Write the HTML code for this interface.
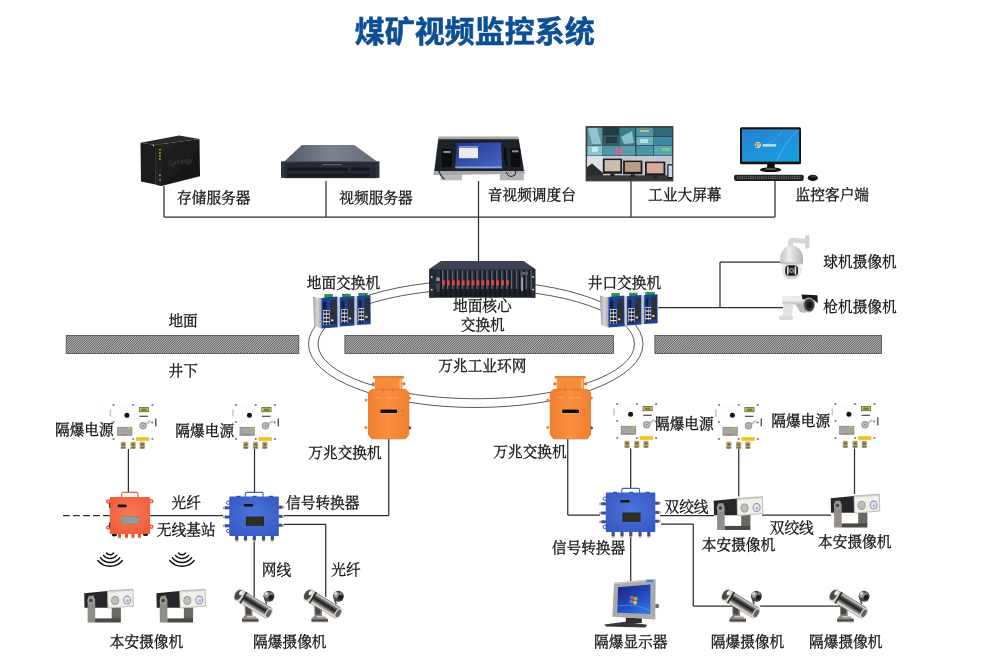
<!DOCTYPE html>
<html lang="zh"><head><meta charset="utf-8"><title>煤矿视频监控系统</title>
<style>
html,body{margin:0;padding:0;background:#fff;}
body{width:985px;height:670px;overflow:hidden;position:relative;font-family:"Liberation Sans",sans-serif;}
svg{position:absolute;left:0;top:0;display:block}
.t{position:absolute;color:transparent;white-space:nowrap;overflow:hidden;line-height:1.2;height:1.2em;font-family:"Liberation Serif",serif;}
.lb{font-family:"Liberation Serif","Noto Serif CJK SC",serif;font-size:14.7px;fill:#141414;stroke:#141414;stroke-width:0.3;}
.ttl{font-family:"Liberation Sans","Noto Sans CJK SC",sans-serif;font-size:30px;font-weight:bold;fill:#0c4f95;stroke:#0c4f95;stroke-width:0.6;}
</style></head><body>
<svg width="985" height="670" viewBox="0 0 985 670">
<defs>
<filter id="bl" x="0" y="0" width="985" height="670" filterUnits="userSpaceOnUse"><feGaussianBlur stdDeviation="0.45"/></filter>
<pattern id="hatch" width="1.63" height="1.63" patternUnits="userSpaceOnUse" patternTransform="rotate(-45)">
<rect width="1.63" height="1.63" fill="#c2c2c2"/><rect width="1.63" height="0.8" fill="#555"/></pattern>
<linearGradient id="nasg" x1="0" y1="0" x2="1" y2="1"><stop offset="0" stop-color="#242424"/><stop offset="1" stop-color="#121212"/></linearGradient>
<linearGradient id="srvtop" x1="0" y1="0" x2="1" y2="0"><stop offset="0" stop-color="#525a66"/><stop offset=".5" stop-color="#7b838e"/><stop offset="1" stop-color="#646c78"/></linearGradient>
<linearGradient id="cons" x1="0" y1="0" x2="1" y2="1"><stop offset="0" stop-color="#27358c"/><stop offset="1" stop-color="#4567c8"/></linearGradient>
<linearGradient id="pcs" x1="0" y1="0" x2="1" y2="1"><stop offset="0" stop-color="#2a80cf"/><stop offset="1" stop-color="#16a2e2"/></linearGradient>
<pattern id="keys" width="2.2" height="1.8" patternUnits="userSpaceOnUse"><rect width="2.2" height="1.8" fill="#222"/><rect width="1.5" height="1.1" fill="#6a6a6e"/></pattern>
<linearGradient id="mox" x1="0" y1="0" x2="1" y2="0"><stop offset="0" stop-color="#9da1a6"/><stop offset=".5" stop-color="#d3d6d9"/><stop offset="1" stop-color="#a6aaae"/></linearGradient>
<linearGradient id="domeg" x1="0" y1="0" x2="1" y2="0"><stop offset="0" stop-color="#c2c2c2"/><stop offset=".4" stop-color="#eeeeee"/><stop offset="1" stop-color="#b4b4b4"/></linearGradient>
<linearGradient id="org" x1="0" y1="0" x2="1" y2="0"><stop offset="0" stop-color="#f07f2e"/><stop offset=".5" stop-color="#f98f40"/><stop offset="1" stop-color="#f0802f"/></linearGradient>
<radialGradient id="bsg" cx=".5" cy=".45" r=".7"><stop offset="0" stop-color="#f87a55"/><stop offset="1" stop-color="#ee5a39"/></radialGradient>
<radialGradient id="cvg" cx=".5" cy=".45" r=".7"><stop offset="0" stop-color="#4c74dc"/><stop offset="1" stop-color="#3557c0"/></radialGradient>
<linearGradient id="cyl" x1="0" y1="0" x2="0" y2="1"><stop offset="0" stop-color="#6e6a66"/><stop offset=".12" stop-color="#cfcac2"/><stop offset=".28" stop-color="#5a595e"/><stop offset=".45" stop-color="#1f1f22"/><stop offset=".6" stop-color="#47474b"/><stop offset=".76" stop-color="#a5a19b"/><stop offset=".9" stop-color="#eeeae2"/><stop offset="1" stop-color="#8a8680"/></linearGradient>
<linearGradient id="exm" x1="0" y1="0" x2=".7" y2="1"><stop offset="0" stop-color="#1a2478"/><stop offset=".55" stop-color="#2446b8"/><stop offset="1" stop-color="#2c70e4"/></linearGradient>
</defs>
<g filter="url(#bl)">
<g fill="none" stroke="#505050" stroke-width="0.95"><ellipse cx="475.75" cy="344" rx="167.25" ry="63.5"/><ellipse cx="476.25" cy="344" rx="158.25" ry="54.75"/></g>
<rect x="66.2" y="335.4" width="232.6" height="18.1" fill="url(#hatch)" stroke="#4a4a4a" stroke-width=".8"/>
<rect x="344.9" y="335.4" width="268.5" height="18.1" fill="url(#hatch)" stroke="#4a4a4a" stroke-width=".8"/>
<rect x="654.9" y="335.4" width="226.7" height="18.1" fill="url(#hatch)" stroke="#4a4a4a" stroke-width=".8"/>
<g stroke="#2e2e2e" stroke-width="1.25" fill="none"><line x1="164" y1="217" x2="775" y2="217" /><line x1="164" y1="186" x2="164" y2="217" /><line x1="326" y1="181" x2="326" y2="217" /><line x1="478.5" y1="181" x2="478.5" y2="261.5" /><line x1="631" y1="181" x2="631" y2="217" /><line x1="775" y1="181" x2="775" y2="217" /><line x1="658" y1="307.5" x2="783" y2="307.5" /><line x1="720" y1="262" x2="720" y2="307.5" /><line x1="720" y1="262" x2="781.5" y2="262" /><line x1="128.4" y1="449" x2="128.4" y2="492.4" /><line x1="254.5" y1="449" x2="254.5" y2="492.4" /><line x1="109.8" y1="515.6" x2="61" y2="515.6" stroke-dasharray="6.8 3.2"/><line x1="150" y1="515.6" x2="223" y2="515.6" /><line x1="284" y1="515.7" x2="388.75" y2="515.7" /><line x1="388.75" y1="438.5" x2="388.75" y2="515.7" /><line x1="284" y1="524.3" x2="325.75" y2="524.3" /><line x1="325.75" y1="524.3" x2="325.75" y2="597" /><line x1="254.2" y1="541.5" x2="254.2" y2="597" /><line x1="567.75" y1="438.5" x2="567.75" y2="515" /><line x1="567.75" y1="515" x2="600" y2="515" /><line x1="630.7" y1="448.5" x2="630.7" y2="488.5" /><line x1="738.75" y1="449" x2="738.75" y2="496.5" /><line x1="854.5" y1="448.5" x2="854.5" y2="494" /><line x1="661" y1="524" x2="693.25" y2="524" /><line x1="693.25" y1="524" x2="693.25" y2="606" /><line x1="693.25" y1="606" x2="733" y2="606" /><line x1="760" y1="606" x2="840" y2="606" /><line x1="762" y1="515" x2="831" y2="515" /><line x1="660" y1="515.5" x2="714" y2="515.5" /><line x1="630.7" y1="537" x2="630.7" y2="581" /></g>
<g><polygon points="140.5,142.8 179.1,135.5 199.5,139.1 155.1,144.9" fill="#2a2a2a"/><polygon points="140.5,142.8 155.1,144.9 155.6,184.6 141.0,181.4" fill="#1b1b1b"/><polygon points="155.1,144.9 199.5,139.1 200.0,176.2 161.4,186.1 155.6,184.6" fill="url(#nasg)"/><polygon points="155.1,144.9 161.2,144.1 161.4,186.1 155.6,184.6" fill="#222"/><rect x="159.2" y="148.9" width="1.5" height="1.5" fill="#b9c32a"/><rect x="159.2" y="152.3" width="1.5" height="1.5" fill="#b9c32a"/><rect x="159.2" y="155.4" width="1.5" height="1.5" fill="#b9c32a"/><rect x="159.2" y="158.3" width="1.5" height="1.5" fill="#b9c32a"/><rect x="159.2" y="174.5" width="1.5" height="1.6" fill="#a4c22a"/><rect x="159.2" y="178.6" width="1.6" height="2.6" fill="#1f8fd0"/><circle cx="153.4" cy="145.6" r="0.8" fill="#ddd"/><text x="168" y="166" font-family="Liberation Sans, sans-serif" font-size="7.5" font-style="italic" fill="#3d3d3d" transform="rotate(-8 168 166)" textLength="25">Synology</text></g>
<g><polygon points="301.8,145.0 354.3,145.0 376.3,161.0 284.8,161.0" fill="url(#srvtop)"/><rect x="281" y="161.3" width="98.5" height="16.6" fill="#2f3944"/><rect x="284.6" y="161" width="92" height="17.2" fill="#262c35"/><rect x="284.6" y="161" width="92" height="1.2" fill="#4a525e"/><rect x="287.5" y="167.6" width="60" height="3.6" fill="#14171c"/><rect x="351.5" y="167.6" width="18" height="3.6" fill="#14171c"/><rect x="287.5" y="173.6" width="82" height="3.3" fill="#171a20"/><rect x="322" y="164" width="20" height="1.3" fill="#59616d"/></g>
<g><rect x="440.6" y="174" width="21.3" height="6.3" fill="#b9b9b9"/><rect x="499.8" y="174" width="24" height="6.3" fill="#b4b4b4"/><polygon points="438.4,136.4 518.2,136.4 525.0,173.8 433.4,174.9" fill="#a6a6a6"/><polygon points="438.4,139.2 518.8,139.2 523.8,171.0 434.5,171.0" fill="#1c202b"/><polygon points="456.8,143.1 501.0,142.5 502.0,168.2 455.2,168.2" fill="url(#cons)"/><rect x="459" y="146.4" width="19" height="11.8" fill="#e9ecf0"/><rect x="459" y="146.4" width="19" height="1.6" fill="#6f86c8"/><polygon points="455.4,166.6 501.9,166.6 502.0,168.2 455.2,168.2" fill="#8ea4d6"/><rect x="441.8" y="148.7" width="10" height="18.3" rx="1.2" fill="#0b0c10"/><rect x="443.4" y="151" width="7.3" height="2" fill="#8d8f94"/><rect x="510.6" y="148.3" width="9.6" height="18.5" rx="1.2" fill="#0b0c10"/><rect x="512" y="150.3" width="6.4" height="2" fill="#8d8f94"/><path d="M505.5 147.5 q-1.5 9 1.5 18" stroke="#0b0c10" stroke-width="2.4" fill="none"/><path d="M438.5 168 q1 8 6 11" stroke="#222" stroke-width="1.2" fill="none"/><path d="M506 172 q3 7 9 3 q2 -3 -1 -5" stroke="#222" stroke-width="1" fill="none"/></g>
<g><rect x="586.1" y="126.6" width="86.8" height="54.3" fill="#2b3236"/><rect x="587.3" y="127.6" width="15.2" height="17.4" fill="#5d959f"/><rect x="602.9" y="127.6" width="16.1" height="6.9" fill="#213c45"/><rect x="619.4" y="127.6" width="15.9" height="17.4" fill="#3a7f8d"/><rect x="602.9" y="135" width="16.1" height="10.0" fill="#315964"/><rect x="636.3" y="127.6" width="17.2" height="8.9" fill="#4e99a8"/><rect x="654" y="127.6" width="18.0" height="8.9" fill="#2f6b78"/><rect x="636.3" y="137" width="17.2" height="8.0" fill="#6db4c2"/><rect x="654" y="137" width="18.0" height="8.0" fill="#3e8b9c"/><rect x="587.3" y="145.6" width="15.2" height="10.0" fill="#86c5cf"/><rect x="602.9" y="145.6" width="16.1" height="10.0" fill="#4e98a4"/><rect x="619.4" y="145.6" width="15.9" height="10.0" fill="#57a0aa"/><rect x="636.3" y="145.6" width="17.2" height="10.0" fill="#4a96a6"/><rect x="654" y="145.6" width="18.0" height="10.0" fill="#5aa5b2"/><polygon points="588,128 597,128 601,144 592,144" fill="#a9dbe3" opacity=".7"/><polygon points="621,137 632,131 634,143 624,144" fill="#9fd6df" opacity=".75"/><rect x="606" y="137" width="11" height="6" fill="#1d343b" opacity=".8"/><rect x="640" y="130" width="9" height="2" fill="#e3c27a" opacity=".8"/><rect x="660" y="139" width="11" height="2.3" fill="#3a7fd0" opacity=".8"/><rect x="615" y="148" width="8" height="6.5" fill="#d8628a" opacity=".75"/><rect x="592" y="147" width="6" height="5" fill="#d6f0f2" opacity=".8"/><rect x="640" y="139" width="8" height="4" fill="#d2eef2" opacity=".7"/><rect x="662" y="148" width="8" height="3" fill="#9fe070" opacity=".5"/><rect x="587" y="156" width="85.2" height="24.2" fill="#c3c8cd"/><rect x="587" y="156" width="16" height="19" fill="#dfe2e5"/><polygon points="587,167 592,163.5 596,167 603,173 603,180 587,180" fill="#2c2e31"/><rect x="587" y="175.3" width="85.2" height="5.1" fill="#35383b"/><rect x="602.8" y="158.6" width="19.3" height="15.2" fill="#1e1f21"/><rect x="604.5999999999999" y="160.1" width="15.7" height="11.2" fill="#cbbcaf"/><rect x="610.45" y="173.8" width="4" height="2.5" fill="#1e1f21"/><rect x="623.1" y="160.6" width="19.3" height="13.7" fill="#1e1f21"/><rect x="624.9" y="162.1" width="15.7" height="9.7" fill="#b79c86"/><rect x="630.75" y="174.3" width="4" height="2.5" fill="#1e1f21"/><rect x="645" y="161.6" width="20.3" height="14.2" fill="#1e1f21"/><rect x="646.8" y="163.1" width="16.7" height="10.2" fill="#d7aa9e"/><rect x="653.15" y="175.8" width="4" height="2.5" fill="#1e1f21"/><rect x="667.3" y="164.2" width="5" height="14.7" fill="#1e1f21"/><rect x="668.5" y="165.5" width="3.8" height="11.5" fill="#c9d9f2"/><rect x="586.1" y="126.6" width="86.8" height="54.3" fill="none" stroke="#3a3d40" stroke-width="1"/></g>
<g><rect x="767.1" y="163.5" width="7.6" height="5.5" fill="#111"/><ellipse cx="770.6" cy="169.7" rx="10.7" ry="2.4" fill="#111"/><ellipse cx="770.6" cy="169" rx="6" ry="1" fill="#555"/><rect x="740" y="127.3" width="61" height="37" rx="1.6" fill="#15110f"/><rect x="741.9" y="129.3" width="57.2" height="32.3" fill="url(#pcs)"/><path d="M777 161 Q786 140 799 130" stroke="#8fd0f2" stroke-width=".6" fill="none" opacity=".8"/><path d="M762 146 Q776 142 782 131" stroke="#7cc6ee" stroke-width=".5" fill="none" opacity=".7"/><circle cx="757.8" cy="145" r="3.1" fill="#e8f1f8" opacity=".9"/><rect x="755.6" y="142.7" width="2" height="2" fill="#e4572a"/><rect x="758" y="142.9" width="2" height="2" fill="#7bbf2e"/><rect x="755.4" y="145.2" width="2" height="2" fill="#2b7ad6"/><rect x="757.8" y="145.4" width="2" height="2" fill="#f3b91c"/><rect x="762.6" y="144.2" width="13.5" height="2.3" fill="#e9f4fb" opacity=".85"/><rect x="734.1" y="174.8" width="69.6" height="6.1" rx="1.8" fill="#1c1c1e"/><rect x="736.5" y="175.8" width="64.8" height="3.6" fill="url(#keys)"/><ellipse cx="812.8" cy="177.9" rx="5.1" ry="3.1" fill="#101012"/><ellipse cx="813.5" cy="176.6" rx="3" ry="1" fill="#3a3a3e"/></g>
<g><polygon points="440.9,261.1 523.7,261.1 535.3,269.1 429.3,269.1" fill="#3d4352"/><rect x="429.3" y="269.1" width="106" height="28.6" fill="#20232d"/><rect x="429.3" y="269.1" width="5.5" height="28.6" fill="#262a35"/><rect x="529.8" y="269.1" width="5.5" height="28.6" fill="#262a35"/><ellipse cx="431.7" cy="277" rx="1.1" ry="0.8" fill="#eee"/><ellipse cx="431.7" cy="289.8" rx="1.1" ry="0.8" fill="#eee"/><ellipse cx="533.1" cy="277" rx="1.1" ry="0.8" fill="#eee"/><ellipse cx="533.1" cy="289.8" rx="1.1" ry="0.8" fill="#eee"/><rect x="435" y="270.3" width="94.5" height="26" fill="#2b2f3b"/><rect x="440.30" y="270.3" width="1.7" height="26" fill="#171920"/><rect x="442.00" y="270.3" width="1.2" height="19" fill="#626a7b"/><rect x="445.22" y="270.3" width="1.7" height="26" fill="#171920"/><rect x="446.92" y="270.3" width="1.2" height="19" fill="#626a7b"/><rect x="450.14" y="270.3" width="1.7" height="26" fill="#171920"/><rect x="451.84" y="270.3" width="1.2" height="19" fill="#626a7b"/><rect x="455.06" y="270.3" width="1.7" height="26" fill="#171920"/><rect x="456.76" y="270.3" width="1.2" height="19" fill="#626a7b"/><rect x="459.98" y="270.3" width="1.7" height="26" fill="#171920"/><rect x="461.68" y="270.3" width="1.2" height="19" fill="#626a7b"/><rect x="464.90" y="270.3" width="1.7" height="26" fill="#171920"/><rect x="466.60" y="270.3" width="1.2" height="19" fill="#626a7b"/><rect x="469.82" y="270.3" width="1.7" height="26" fill="#171920"/><rect x="471.52" y="270.3" width="1.2" height="19" fill="#626a7b"/><rect x="474.74" y="270.3" width="1.7" height="26" fill="#171920"/><rect x="476.44" y="270.3" width="1.2" height="19" fill="#626a7b"/><rect x="479.66" y="270.3" width="1.7" height="26" fill="#171920"/><rect x="481.36" y="270.3" width="1.2" height="19" fill="#626a7b"/><rect x="484.58" y="270.3" width="1.7" height="26" fill="#171920"/><rect x="486.28" y="270.3" width="1.2" height="19" fill="#626a7b"/><rect x="489.50" y="270.3" width="1.7" height="26" fill="#171920"/><rect x="491.20" y="270.3" width="1.2" height="19" fill="#626a7b"/><rect x="494.42" y="270.3" width="1.7" height="26" fill="#171920"/><rect x="496.12" y="270.3" width="1.2" height="19" fill="#626a7b"/><rect x="499.34" y="270.3" width="1.7" height="26" fill="#171920"/><rect x="501.04" y="270.3" width="1.2" height="19" fill="#626a7b"/><rect x="504.26" y="270.3" width="1.7" height="26" fill="#171920"/><rect x="505.96" y="270.3" width="1.2" height="19" fill="#626a7b"/><rect x="509.18" y="270.3" width="1.7" height="26" fill="#171920"/><rect x="510.88" y="270.3" width="1.2" height="19" fill="#626a7b"/><rect x="514.10" y="270.3" width="1.7" height="26" fill="#171920"/><rect x="515.80" y="270.3" width="1.2" height="19" fill="#626a7b"/><rect x="519.02" y="270.3" width="1.7" height="26" fill="#171920"/><rect x="520.72" y="270.3" width="1.2" height="19" fill="#626a7b"/><rect x="523.94" y="270.3" width="1.7" height="26" fill="#171920"/><rect x="525.64" y="270.3" width="1.2" height="19" fill="#626a7b"/><rect x="528.86" y="270.3" width="1.7" height="26" fill="#171920"/><rect x="530.56" y="270.3" width="1.2" height="19" fill="#626a7b"/><rect x="442.20" y="280.3" width="2.6" height="4.9" fill="#ea4540"/><rect x="447.12" y="280.3" width="2.6" height="4.9" fill="#ea4540"/><rect x="452.04" y="280.3" width="2.6" height="4.9" fill="#ea4540"/><rect x="456.96" y="280.3" width="2.6" height="4.9" fill="#ea4540"/><rect x="461.88" y="280.3" width="2.6" height="4.9" fill="#ea4540"/><rect x="466.80" y="280.3" width="2.6" height="4.9" fill="#ea4540"/><rect x="471.72" y="280.3" width="2.6" height="4.9" fill="#ea4540"/><rect x="476.64" y="280.3" width="2.6" height="4.9" fill="#ea4540"/><rect x="481.56" y="280.3" width="2.6" height="4.9" fill="#ea4540"/><rect x="486.48" y="280.3" width="2.6" height="4.9" fill="#ea4540"/><rect x="491.40" y="280.3" width="2.6" height="4.9" fill="#ea4540"/><rect x="496.32" y="280.3" width="2.6" height="4.9" fill="#ea4540"/><rect x="501.24" y="280.3" width="2.6" height="4.9" fill="#ea4540"/><rect x="506.16" y="280.3" width="2.6" height="4.9" fill="#ea4540"/><rect x="435" y="289" width="94.5" height="7.4" fill="#12141a" opacity=".55"/><rect x="436.3" y="277.5" width="3.6" height="3.5" fill="#8a909c"/><rect x="436.6" y="283" width="3" height="9" fill="#3f4552"/><rect x="521" y="272" width="7" height="3" fill="#565c6b"/><rect x="521.2" y="277.5" width="1.8" height="13.5" fill="#9da3ae"/></g>
<g transform="translate(0 0)"><rect x="324.4" y="294.1" width="8.4" height="3.9" fill="#2b9344"/><polygon points="313.0,296.8 321.4,298.3 321.4,328.4 314.1,325.7" fill="url(#mox)"/><polygon points="321.4,298.0 337.4,296.4 337.7,327.3 321.4,328.4" fill="#1c429a"/><rect x="330.4" y="300.0" width="6.1" height="24.4" fill="#2d3038"/><rect x="323.0" y="301.5" width="3.4" height="8" fill="#16203a"/><rect x="323.0" y="310.0" width="6.7" height="14.9" fill="#e4e6e8"/><rect x="323.5" y="310.8" width="2.6" height="2.6" fill="#20242c"/><rect x="326.7" y="310.8" width="2.6" height="2.6" fill="#20242c"/><rect x="323.5" y="314.6" width="2.6" height="2.6" fill="#20242c"/><rect x="326.7" y="314.6" width="2.6" height="2.6" fill="#20242c"/><rect x="323.5" y="318.4" width="2.6" height="2.6" fill="#20242c"/><rect x="326.7" y="318.4" width="2.6" height="2.6" fill="#20242c"/><rect x="323.5" y="322.2" width="2.6" height="2.6" fill="#20242c"/><rect x="326.7" y="322.2" width="2.6" height="2.6" fill="#20242c"/><rect x="331.0" y="319.4" width="2.4" height="1.8" fill="#d8dadd"/><rect x="342" y="293.8" width="8.7" height="3.9" fill="#2b9344"/><polygon points="337.4,297.0 340.0,297.4 340.0,326.8 337.7,326.2" fill="url(#mox)"/><polygon points="340.0,297.2 354.5,296.1 354.5,325.6 340.0,326.5" fill="#1c429a"/><rect x="348.1" y="299.2" width="5.5" height="23.3" fill="#2d3038"/><rect x="341.4" y="300.7" width="3.0" height="8" fill="#16203a"/><rect x="341.4" y="309.2" width="6.1" height="13.8" fill="#e4e6e8"/><rect x="341.9" y="310.0" width="2.3" height="2.6" fill="#20242c"/><rect x="344.8" y="310.0" width="2.3" height="2.6" fill="#20242c"/><rect x="341.9" y="313.8" width="2.3" height="2.6" fill="#20242c"/><rect x="344.8" y="313.8" width="2.3" height="2.6" fill="#20242c"/><rect x="341.9" y="317.6" width="2.3" height="2.6" fill="#20242c"/><rect x="344.8" y="317.6" width="2.3" height="2.6" fill="#20242c"/><rect x="341.9" y="321.4" width="2.3" height="2.6" fill="#20242c"/><rect x="344.8" y="321.4" width="2.3" height="2.6" fill="#20242c"/><rect x="348.7" y="317.5" width="2.4" height="1.8" fill="#d8dadd"/><rect x="358.3" y="293" width="9.5" height="3.9" fill="#2b9344"/><polygon points="354.5,296.6 357.2,296.3 357.2,325.3 354.5,325.0" fill="url(#mox)"/><polygon points="357.2,296.0 370.5,295.3 370.7,324.2 357.2,325.0" fill="#1c429a"/><rect x="364.6" y="298.0" width="5.1" height="23.0" fill="#2d3038"/><rect x="358.5" y="299.5" width="2.8" height="8" fill="#16203a"/><rect x="358.5" y="308.0" width="5.6" height="13.5" fill="#e4e6e8"/><rect x="359.0" y="308.8" width="2.1" height="2.6" fill="#20242c"/><rect x="361.6" y="308.8" width="2.1" height="2.6" fill="#20242c"/><rect x="359.0" y="312.6" width="2.1" height="2.6" fill="#20242c"/><rect x="361.6" y="312.6" width="2.1" height="2.6" fill="#20242c"/><rect x="359.0" y="316.4" width="2.1" height="2.6" fill="#20242c"/><rect x="361.6" y="316.4" width="2.1" height="2.6" fill="#20242c"/><rect x="359.0" y="320.2" width="2.1" height="2.6" fill="#20242c"/><rect x="361.6" y="320.2" width="2.1" height="2.6" fill="#20242c"/><rect x="365.2" y="316.0" width="2.4" height="1.8" fill="#d8dadd"/></g>
<g transform="translate(287 -1)"><rect x="324.4" y="294.1" width="8.4" height="3.9" fill="#2b9344"/><polygon points="313.0,296.8 321.4,298.3 321.4,328.4 314.1,325.7" fill="url(#mox)"/><polygon points="321.4,298.0 337.4,296.4 337.7,327.3 321.4,328.4" fill="#1c429a"/><rect x="330.4" y="300.0" width="6.1" height="24.4" fill="#2d3038"/><rect x="323.0" y="301.5" width="3.4" height="8" fill="#16203a"/><rect x="323.0" y="310.0" width="6.7" height="14.9" fill="#e4e6e8"/><rect x="323.5" y="310.8" width="2.6" height="2.6" fill="#20242c"/><rect x="326.7" y="310.8" width="2.6" height="2.6" fill="#20242c"/><rect x="323.5" y="314.6" width="2.6" height="2.6" fill="#20242c"/><rect x="326.7" y="314.6" width="2.6" height="2.6" fill="#20242c"/><rect x="323.5" y="318.4" width="2.6" height="2.6" fill="#20242c"/><rect x="326.7" y="318.4" width="2.6" height="2.6" fill="#20242c"/><rect x="323.5" y="322.2" width="2.6" height="2.6" fill="#20242c"/><rect x="326.7" y="322.2" width="2.6" height="2.6" fill="#20242c"/><rect x="331.0" y="319.4" width="2.4" height="1.8" fill="#d8dadd"/><rect x="342" y="293.8" width="8.7" height="3.9" fill="#2b9344"/><polygon points="337.4,297.0 340.0,297.4 340.0,326.8 337.7,326.2" fill="url(#mox)"/><polygon points="340.0,297.2 354.5,296.1 354.5,325.6 340.0,326.5" fill="#1c429a"/><rect x="348.1" y="299.2" width="5.5" height="23.3" fill="#2d3038"/><rect x="341.4" y="300.7" width="3.0" height="8" fill="#16203a"/><rect x="341.4" y="309.2" width="6.1" height="13.8" fill="#e4e6e8"/><rect x="341.9" y="310.0" width="2.3" height="2.6" fill="#20242c"/><rect x="344.8" y="310.0" width="2.3" height="2.6" fill="#20242c"/><rect x="341.9" y="313.8" width="2.3" height="2.6" fill="#20242c"/><rect x="344.8" y="313.8" width="2.3" height="2.6" fill="#20242c"/><rect x="341.9" y="317.6" width="2.3" height="2.6" fill="#20242c"/><rect x="344.8" y="317.6" width="2.3" height="2.6" fill="#20242c"/><rect x="341.9" y="321.4" width="2.3" height="2.6" fill="#20242c"/><rect x="344.8" y="321.4" width="2.3" height="2.6" fill="#20242c"/><rect x="348.7" y="317.5" width="2.4" height="1.8" fill="#d8dadd"/><rect x="358.3" y="293" width="9.5" height="3.9" fill="#2b9344"/><polygon points="354.5,296.6 357.2,296.3 357.2,325.3 354.5,325.0" fill="url(#mox)"/><polygon points="357.2,296.0 370.5,295.3 370.7,324.2 357.2,325.0" fill="#1c429a"/><rect x="364.6" y="298.0" width="5.1" height="23.0" fill="#2d3038"/><rect x="358.5" y="299.5" width="2.8" height="8" fill="#16203a"/><rect x="358.5" y="308.0" width="5.6" height="13.5" fill="#e4e6e8"/><rect x="359.0" y="308.8" width="2.1" height="2.6" fill="#20242c"/><rect x="361.6" y="308.8" width="2.1" height="2.6" fill="#20242c"/><rect x="359.0" y="312.6" width="2.1" height="2.6" fill="#20242c"/><rect x="361.6" y="312.6" width="2.1" height="2.6" fill="#20242c"/><rect x="359.0" y="316.4" width="2.1" height="2.6" fill="#20242c"/><rect x="361.6" y="316.4" width="2.1" height="2.6" fill="#20242c"/><rect x="359.0" y="320.2" width="2.1" height="2.6" fill="#20242c"/><rect x="361.6" y="320.2" width="2.1" height="2.6" fill="#20242c"/><rect x="365.2" y="316.0" width="2.4" height="1.8" fill="#d8dadd"/></g>
<g><rect x="805.1" y="235.3" width="4.4" height="13.2" rx="0.8" fill="#d2d2d2"/><path d="M790.5 246.5 V242.5 Q790.5 240.2 794 240.2 L806 241.5" stroke="#d6d6d6" stroke-width="4.8" fill="none"/><path d="M780.3 263.2 V258 A11.3 12.4 0 0 1 802.9 258 V263.2 Z" fill="url(#domeg)"/><ellipse cx="791.6" cy="270.3" rx="9.9" ry="9.1" fill="#e6e6e6"/><ellipse cx="791.6" cy="275" rx="7.5" ry="4" fill="#d2d2d2"/><rect x="780.3" y="262.2" width="22.6" height="2.2" fill="#c4c4c4"/><rect x="785.2" y="265.2" width="12.8" height="10.6" rx="3.8" fill="#1f1f21"/><rect x="787" y="266.3" width="1.6" height="8.4" rx=".8" fill="#e6e6e6"/><rect x="794.6" y="266.3" width="1.6" height="8.4" rx=".8" fill="#e6e6e6"/><circle cx="791.6" cy="270.4" r="2.5" fill="#8d8d92"/><circle cx="791.6" cy="270.4" r="1.2" fill="#2a2a2d"/></g>
<g><rect x="778.8" y="315.6" width="14.6" height="4.4" rx="2" fill="#dcdcdc"/><polygon points="784.0,303.0 793.4,303.0 792.0,316.0 782.5,316.0" fill="#e3e3e3"/><rect x="782.4" y="296" width="22" height="8.4" rx="1.5" fill="#ececec"/><rect x="782.4" y="301.5" width="22" height="2.9" fill="#cfcfcf"/><polygon points="795.0,303.5 806.0,303.5 806.0,313.0 800.0,312.0" fill="#b9b9bb"/><polygon points="801.5,294.6 817.4,295.3 817.8,303.0 813.0,299.6 802.5,299.3" fill="#18181a"/><ellipse cx="808.8" cy="305" rx="6.2" ry="7.4" fill="#a9a9ad"/><ellipse cx="809.2" cy="305" rx="5" ry="6.2" fill="#38383c"/><ellipse cx="809.5" cy="305" rx="2.6" ry="3.2" fill="#121214"/></g>
<g transform="translate(0 0)"><circle cx="365.9" cy="400" r="1.6" fill="#f08a3c"/><circle cx="365.9" cy="427.5" r="1.6" fill="#f08a3c"/><circle cx="409.6" cy="427.8" r="1.6" fill="#4b4a38"/><circle cx="373.2" cy="383.8" r="1.6" fill="#e8622a"/><circle cx="403.9" cy="383.8" r="1.6" fill="#e8622a"/><circle cx="409.4" cy="398" r="1.6" fill="#e97b2e"/><rect x="372.8" y="376" width="31.2" height="2.6" rx=".8" fill="#ee7d2b"/><rect x="375" y="378.2" width="27.3" height="12" fill="#f68b3a"/><rect x="399.6" y="379" width="1.6" height="10" fill="#fbc9a0" opacity=".8"/><path d="M371.5 389.4 H405.8 L408.8 392.4 V434.5 L405.5 438.8 H371.8 L368.5 434.5 V392.4 Z" fill="url(#org)" stroke="#e06f22" stroke-width=".8"/><rect x="379.7" y="408.8" width="18.2" height="5" rx=".8" fill="#f9a057"/><rect x="380.4" y="409.6" width="16.8" height="3.3" rx=".5" fill="#0d0906"/><path d="M400.3 410 h2.6 v5.8 h-2.6" stroke="#e2711f" stroke-width=".8" fill="none"/><path d="M376 397.5 h4.4 v1.8" stroke="#fbb27a" stroke-width=".6" fill="none"/><path d="M387 397.5 h4.4 v1.8" stroke="#fbb27a" stroke-width=".6" fill="none"/><path d="M394 397.5 h4.4 v1.8" stroke="#fbb27a" stroke-width=".6" fill="none"/><circle cx="383.4" cy="390.2" r=".6" fill="#c2551a"/><circle cx="392.6" cy="390.2" r=".6" fill="#c2551a"/></g>
<g transform="translate(181.75 0)"><circle cx="365.9" cy="400" r="1.6" fill="#f08a3c"/><circle cx="365.9" cy="427.5" r="1.6" fill="#f08a3c"/><circle cx="409.6" cy="427.8" r="1.6" fill="#4b4a38"/><circle cx="373.2" cy="383.8" r="1.6" fill="#e8622a"/><circle cx="403.9" cy="383.8" r="1.6" fill="#e8622a"/><circle cx="409.4" cy="398" r="1.6" fill="#e97b2e"/><rect x="372.8" y="376" width="31.2" height="2.6" rx=".8" fill="#ee7d2b"/><rect x="375" y="378.2" width="27.3" height="12" fill="#f68b3a"/><rect x="399.6" y="379" width="1.6" height="10" fill="#fbc9a0" opacity=".8"/><path d="M371.5 389.4 H405.8 L408.8 392.4 V434.5 L405.5 438.8 H371.8 L368.5 434.5 V392.4 Z" fill="url(#org)" stroke="#e06f22" stroke-width=".8"/><rect x="379.7" y="408.8" width="18.2" height="5" rx=".8" fill="#f9a057"/><rect x="380.4" y="409.6" width="16.8" height="3.3" rx=".5" fill="#0d0906"/><path d="M400.3 410 h2.6 v5.8 h-2.6" stroke="#e2711f" stroke-width=".8" fill="none"/><path d="M376 397.5 h4.4 v1.8" stroke="#fbb27a" stroke-width=".6" fill="none"/><path d="M387 397.5 h4.4 v1.8" stroke="#fbb27a" stroke-width=".6" fill="none"/><path d="M394 397.5 h4.4 v1.8" stroke="#fbb27a" stroke-width=".6" fill="none"/><circle cx="383.4" cy="390.2" r=".6" fill="#c2551a"/><circle cx="392.6" cy="390.2" r=".6" fill="#c2551a"/></g>
<g transform="translate(0 0)"><rect x="112.4" y="404" width="41.2" height="36" fill="#fdfdfd"/><circle cx="113.5" cy="405" r="1.1" fill="#7a7a7a"/><circle cx="133.2" cy="405" r="1.1" fill="#7a7a7a"/><circle cx="152.4" cy="405" r="1.1" fill="#7a7a7a"/><circle cx="113.5" cy="439" r="1.1" fill="#7a7a7a"/><circle cx="133.2" cy="439" r="1.1" fill="#7a7a7a"/><circle cx="152.4" cy="439" r="1.1" fill="#7a7a7a"/><circle cx="113.5" cy="422" r="1.1" fill="#7a7a7a"/><circle cx="152.2" cy="422.5" r="1.1" fill="#7a7a7a"/><circle cx="126.9" cy="415.2" r="2.5" fill="#141414"/><rect x="139" y="407.2" width="9.9" height="4.9" fill="#3b3f73"/><rect x="139.6" y="407.8" width="8.7" height="3.7" fill="#c6d423"/><rect x="141.2" y="408.6" width="5.6" height="2.2" fill="#5c6340" opacity=".8"/><rect x="139.5" y="415.7" width="8.5" height="1.3" fill="#7b4b4b"/><rect x="109.6" y="409.4" width="1.6" height="7.2" fill="#d8c9a0"/><rect x="155.1" y="418.4" width="1.4" height="8" fill="#5e5040"/><path d="M145 424.5 L150.5 421" stroke="#c9c9c9" stroke-width="2.2"/><circle cx="143" cy="425.8" r="3.7" fill="#9d9d9d"/><circle cx="143" cy="425.8" r="2.2" fill="#c6c6c6"/><circle cx="143" cy="425.8" r="1" fill="#8a8a8a"/><rect x="117.1" y="426.9" width="15.2" height="8.9" fill="#8f8f8f"/><rect x="118" y="427.8" width="13.4" height="6.6" fill="#a5a5a5"/><rect x="127" y="427.4" width="4.4" height="1.6" fill="#b6c23a"/><rect x="121" y="434.4" width="5.5" height=".8" fill="#c8665e"/><rect x="135.9" y="437.2" width="13.4" height="3.6" fill="#f1c11f"/><rect x="120.7" y="441.7" width="5.2" height="7.3" rx="1" fill="#b3a672"/><rect x="121.9" y="443.5" width="2.8" height="2" fill="#6d5f3c"/><rect x="121.3" y="447" width="4" height="1.2" fill="#7b6c46"/><rect x="130.5" y="441.7" width="5.2" height="7.3" rx="1" fill="#b3a672"/><rect x="131.7" y="443.5" width="2.8" height="2" fill="#6d5f3c"/><rect x="131.1" y="447" width="4" height="1.2" fill="#7b6c46"/><rect x="139.7" y="441.7" width="5.2" height="7.3" rx="1" fill="#b3a672"/><rect x="140.89999999999998" y="443.5" width="2.8" height="2" fill="#6d5f3c"/><rect x="140.29999999999998" y="447" width="4" height="1.2" fill="#7b6c46"/></g>
<g transform="translate(122.5 0)"><rect x="112.4" y="404" width="41.2" height="36" fill="#fdfdfd"/><circle cx="113.5" cy="405" r="1.1" fill="#7a7a7a"/><circle cx="133.2" cy="405" r="1.1" fill="#7a7a7a"/><circle cx="152.4" cy="405" r="1.1" fill="#7a7a7a"/><circle cx="113.5" cy="439" r="1.1" fill="#7a7a7a"/><circle cx="133.2" cy="439" r="1.1" fill="#7a7a7a"/><circle cx="152.4" cy="439" r="1.1" fill="#7a7a7a"/><circle cx="113.5" cy="422" r="1.1" fill="#7a7a7a"/><circle cx="152.2" cy="422.5" r="1.1" fill="#7a7a7a"/><circle cx="126.9" cy="415.2" r="2.5" fill="#141414"/><rect x="139" y="407.2" width="9.9" height="4.9" fill="#3b3f73"/><rect x="139.6" y="407.8" width="8.7" height="3.7" fill="#c6d423"/><rect x="141.2" y="408.6" width="5.6" height="2.2" fill="#5c6340" opacity=".8"/><rect x="139.5" y="415.7" width="8.5" height="1.3" fill="#7b4b4b"/><rect x="109.6" y="409.4" width="1.6" height="7.2" fill="#d8c9a0"/><rect x="155.1" y="418.4" width="1.4" height="8" fill="#5e5040"/><path d="M145 424.5 L150.5 421" stroke="#c9c9c9" stroke-width="2.2"/><circle cx="143" cy="425.8" r="3.7" fill="#9d9d9d"/><circle cx="143" cy="425.8" r="2.2" fill="#c6c6c6"/><circle cx="143" cy="425.8" r="1" fill="#8a8a8a"/><rect x="117.1" y="426.9" width="15.2" height="8.9" fill="#8f8f8f"/><rect x="118" y="427.8" width="13.4" height="6.6" fill="#a5a5a5"/><rect x="127" y="427.4" width="4.4" height="1.6" fill="#b6c23a"/><rect x="121" y="434.4" width="5.5" height=".8" fill="#c8665e"/><rect x="135.9" y="437.2" width="13.4" height="3.6" fill="#f1c11f"/><rect x="120.7" y="441.7" width="5.2" height="7.3" rx="1" fill="#b3a672"/><rect x="121.9" y="443.5" width="2.8" height="2" fill="#6d5f3c"/><rect x="121.3" y="447" width="4" height="1.2" fill="#7b6c46"/><rect x="130.5" y="441.7" width="5.2" height="7.3" rx="1" fill="#b3a672"/><rect x="131.7" y="443.5" width="2.8" height="2" fill="#6d5f3c"/><rect x="131.1" y="447" width="4" height="1.2" fill="#7b6c46"/><rect x="139.7" y="441.7" width="5.2" height="7.3" rx="1" fill="#b3a672"/><rect x="140.89999999999998" y="443.5" width="2.8" height="2" fill="#6d5f3c"/><rect x="140.29999999999998" y="447" width="4" height="1.2" fill="#7b6c46"/></g>
<g transform="translate(503.7 -1)"><rect x="112.4" y="404" width="41.2" height="36" fill="#fdfdfd"/><circle cx="113.5" cy="405" r="1.1" fill="#7a7a7a"/><circle cx="133.2" cy="405" r="1.1" fill="#7a7a7a"/><circle cx="152.4" cy="405" r="1.1" fill="#7a7a7a"/><circle cx="113.5" cy="439" r="1.1" fill="#7a7a7a"/><circle cx="133.2" cy="439" r="1.1" fill="#7a7a7a"/><circle cx="152.4" cy="439" r="1.1" fill="#7a7a7a"/><circle cx="113.5" cy="422" r="1.1" fill="#7a7a7a"/><circle cx="152.2" cy="422.5" r="1.1" fill="#7a7a7a"/><circle cx="126.9" cy="415.2" r="2.5" fill="#141414"/><rect x="139" y="407.2" width="9.9" height="4.9" fill="#3b3f73"/><rect x="139.6" y="407.8" width="8.7" height="3.7" fill="#c6d423"/><rect x="141.2" y="408.6" width="5.6" height="2.2" fill="#5c6340" opacity=".8"/><rect x="139.5" y="415.7" width="8.5" height="1.3" fill="#7b4b4b"/><rect x="109.6" y="409.4" width="1.6" height="7.2" fill="#d8c9a0"/><rect x="155.1" y="418.4" width="1.4" height="8" fill="#5e5040"/><path d="M145 424.5 L150.5 421" stroke="#c9c9c9" stroke-width="2.2"/><circle cx="143" cy="425.8" r="3.7" fill="#9d9d9d"/><circle cx="143" cy="425.8" r="2.2" fill="#c6c6c6"/><circle cx="143" cy="425.8" r="1" fill="#8a8a8a"/><rect x="117.1" y="426.9" width="15.2" height="8.9" fill="#8f8f8f"/><rect x="118" y="427.8" width="13.4" height="6.6" fill="#a5a5a5"/><rect x="127" y="427.4" width="4.4" height="1.6" fill="#b6c23a"/><rect x="121" y="434.4" width="5.5" height=".8" fill="#c8665e"/><rect x="135.9" y="437.2" width="13.4" height="3.6" fill="#f1c11f"/><rect x="120.7" y="441.7" width="5.2" height="7.3" rx="1" fill="#b3a672"/><rect x="121.9" y="443.5" width="2.8" height="2" fill="#6d5f3c"/><rect x="121.3" y="447" width="4" height="1.2" fill="#7b6c46"/><rect x="130.5" y="441.7" width="5.2" height="7.3" rx="1" fill="#b3a672"/><rect x="131.7" y="443.5" width="2.8" height="2" fill="#6d5f3c"/><rect x="131.1" y="447" width="4" height="1.2" fill="#7b6c46"/><rect x="139.7" y="441.7" width="5.2" height="7.3" rx="1" fill="#b3a672"/><rect x="140.89999999999998" y="443.5" width="2.8" height="2" fill="#6d5f3c"/><rect x="140.29999999999998" y="447" width="4" height="1.2" fill="#7b6c46"/></g>
<g transform="translate(605.5 0)"><rect x="112.4" y="404" width="41.2" height="36" fill="#fdfdfd"/><circle cx="113.5" cy="405" r="1.1" fill="#7a7a7a"/><circle cx="133.2" cy="405" r="1.1" fill="#7a7a7a"/><circle cx="152.4" cy="405" r="1.1" fill="#7a7a7a"/><circle cx="113.5" cy="439" r="1.1" fill="#7a7a7a"/><circle cx="133.2" cy="439" r="1.1" fill="#7a7a7a"/><circle cx="152.4" cy="439" r="1.1" fill="#7a7a7a"/><circle cx="113.5" cy="422" r="1.1" fill="#7a7a7a"/><circle cx="152.2" cy="422.5" r="1.1" fill="#7a7a7a"/><circle cx="126.9" cy="415.2" r="2.5" fill="#141414"/><rect x="139" y="407.2" width="9.9" height="4.9" fill="#3b3f73"/><rect x="139.6" y="407.8" width="8.7" height="3.7" fill="#c6d423"/><rect x="141.2" y="408.6" width="5.6" height="2.2" fill="#5c6340" opacity=".8"/><rect x="139.5" y="415.7" width="8.5" height="1.3" fill="#7b4b4b"/><rect x="109.6" y="409.4" width="1.6" height="7.2" fill="#d8c9a0"/><rect x="155.1" y="418.4" width="1.4" height="8" fill="#5e5040"/><path d="M145 424.5 L150.5 421" stroke="#c9c9c9" stroke-width="2.2"/><circle cx="143" cy="425.8" r="3.7" fill="#9d9d9d"/><circle cx="143" cy="425.8" r="2.2" fill="#c6c6c6"/><circle cx="143" cy="425.8" r="1" fill="#8a8a8a"/><rect x="117.1" y="426.9" width="15.2" height="8.9" fill="#8f8f8f"/><rect x="118" y="427.8" width="13.4" height="6.6" fill="#a5a5a5"/><rect x="127" y="427.4" width="4.4" height="1.6" fill="#b6c23a"/><rect x="121" y="434.4" width="5.5" height=".8" fill="#c8665e"/><rect x="135.9" y="437.2" width="13.4" height="3.6" fill="#f1c11f"/><rect x="120.7" y="441.7" width="5.2" height="7.3" rx="1" fill="#b3a672"/><rect x="121.9" y="443.5" width="2.8" height="2" fill="#6d5f3c"/><rect x="121.3" y="447" width="4" height="1.2" fill="#7b6c46"/><rect x="130.5" y="441.7" width="5.2" height="7.3" rx="1" fill="#b3a672"/><rect x="131.7" y="443.5" width="2.8" height="2" fill="#6d5f3c"/><rect x="131.1" y="447" width="4" height="1.2" fill="#7b6c46"/><rect x="139.7" y="441.7" width="5.2" height="7.3" rx="1" fill="#b3a672"/><rect x="140.89999999999998" y="443.5" width="2.8" height="2" fill="#6d5f3c"/><rect x="140.29999999999998" y="447" width="4" height="1.2" fill="#7b6c46"/></g>
<g transform="translate(722 -1)"><rect x="112.4" y="404" width="41.2" height="36" fill="#fdfdfd"/><circle cx="113.5" cy="405" r="1.1" fill="#7a7a7a"/><circle cx="133.2" cy="405" r="1.1" fill="#7a7a7a"/><circle cx="152.4" cy="405" r="1.1" fill="#7a7a7a"/><circle cx="113.5" cy="439" r="1.1" fill="#7a7a7a"/><circle cx="133.2" cy="439" r="1.1" fill="#7a7a7a"/><circle cx="152.4" cy="439" r="1.1" fill="#7a7a7a"/><circle cx="113.5" cy="422" r="1.1" fill="#7a7a7a"/><circle cx="152.2" cy="422.5" r="1.1" fill="#7a7a7a"/><circle cx="126.9" cy="415.2" r="2.5" fill="#141414"/><rect x="139" y="407.2" width="9.9" height="4.9" fill="#3b3f73"/><rect x="139.6" y="407.8" width="8.7" height="3.7" fill="#c6d423"/><rect x="141.2" y="408.6" width="5.6" height="2.2" fill="#5c6340" opacity=".8"/><rect x="139.5" y="415.7" width="8.5" height="1.3" fill="#7b4b4b"/><rect x="109.6" y="409.4" width="1.6" height="7.2" fill="#d8c9a0"/><rect x="155.1" y="418.4" width="1.4" height="8" fill="#5e5040"/><path d="M145 424.5 L150.5 421" stroke="#c9c9c9" stroke-width="2.2"/><circle cx="143" cy="425.8" r="3.7" fill="#9d9d9d"/><circle cx="143" cy="425.8" r="2.2" fill="#c6c6c6"/><circle cx="143" cy="425.8" r="1" fill="#8a8a8a"/><rect x="117.1" y="426.9" width="15.2" height="8.9" fill="#8f8f8f"/><rect x="118" y="427.8" width="13.4" height="6.6" fill="#a5a5a5"/><rect x="127" y="427.4" width="4.4" height="1.6" fill="#b6c23a"/><rect x="121" y="434.4" width="5.5" height=".8" fill="#c8665e"/><rect x="135.9" y="437.2" width="13.4" height="3.6" fill="#f1c11f"/><rect x="120.7" y="441.7" width="5.2" height="7.3" rx="1" fill="#b3a672"/><rect x="121.9" y="443.5" width="2.8" height="2" fill="#6d5f3c"/><rect x="121.3" y="447" width="4" height="1.2" fill="#7b6c46"/><rect x="130.5" y="441.7" width="5.2" height="7.3" rx="1" fill="#b3a672"/><rect x="131.7" y="443.5" width="2.8" height="2" fill="#6d5f3c"/><rect x="131.1" y="447" width="4" height="1.2" fill="#7b6c46"/><rect x="139.7" y="441.7" width="5.2" height="7.3" rx="1" fill="#b3a672"/><rect x="140.89999999999998" y="443.5" width="2.8" height="2" fill="#6d5f3c"/><rect x="140.29999999999998" y="447" width="4" height="1.2" fill="#7b6c46"/></g>
<g><rect x="121.6" y="492.4" width="16.4" height="7" rx="1.6" fill="none" stroke="#f0603d" stroke-width="1.1"/><circle cx="108.2" cy="501.5" r="2.2" fill="#ef5d3b"/><circle cx="108.2" cy="501.5" r=".7" fill="#fff"/><circle cx="108.2" cy="527.4" r="2.2" fill="#ef5d3b"/><circle cx="108.2" cy="527.4" r=".7" fill="#fff"/><circle cx="151.3" cy="501.2" r="2.2" fill="#ef5d3b"/><circle cx="151.3" cy="501.2" r=".7" fill="#fff"/><circle cx="151.3" cy="526.8" r="2.2" fill="#ef5d3b"/><circle cx="151.3" cy="526.8" r=".7" fill="#fff"/><ellipse cx="114.4" cy="534.8" rx="2.6" ry="1.6" fill="#141010"/><ellipse cx="145.5" cy="534.4" rx="2.6" ry="1.6" fill="#141010"/><rect x="118.0" y="533.5" width="3" height="4.4" fill="#e9502f"/><rect x="118.3" y="537.2" width="2.4" height="1.2" fill="#f6a079"/><rect x="125.0" y="533.5" width="3" height="4.4" fill="#e9502f"/><rect x="125.3" y="537.2" width="2.4" height="1.2" fill="#f6a079"/><rect x="131.5" y="533.5" width="3" height="4.4" fill="#e9502f"/><rect x="131.8" y="537.2" width="2.4" height="1.2" fill="#f6a079"/><rect x="137.9" y="533.5" width="3" height="4.4" fill="#e9502f"/><rect x="138.20000000000002" y="537.2" width="2.4" height="1.2" fill="#f6a079"/><rect x="109.8" y="497.1" width="40.3" height="37" rx="1" fill="url(#bsg)"/><rect x="109.1" y="503" width="1.1" height="5.2" fill="#3a2a26"/><rect x="109.1" y="522.5" width="1.1" height="5.2" fill="#3a2a26"/><rect x="117.7" y="504.5" width="8.8" height="2.8" rx=".6" fill="#141214"/><rect x="121.4" y="516.1" width="17.6" height="8.3" fill="#8b8b85"/><rect x="122.2" y="516.9" width="16" height="6.7" fill="#9b9b95"/><rect x="136.6" y="516.6" width="1.8" height="1.4" fill="#4aa84a"/></g>
<g transform="translate(0 0)"><rect x="245.3" y="492.4" width="17.8" height="7" rx="1.4" fill="none" stroke="#3e62c8" stroke-width="1.1"/><rect x="235.1" y="535" width="3.2" height="5.4" fill="#3350b0"/><rect x="235.5" y="540" width="2.4" height="1.6" fill="#c9a24a"/><rect x="243.9" y="535" width="3.2" height="5.4" fill="#3350b0"/><rect x="244.3" y="540" width="2.4" height="1.6" fill="#c9a24a"/><rect x="252.70000000000002" y="535" width="3.2" height="5.4" fill="#3350b0"/><rect x="253.10000000000002" y="540" width="2.4" height="1.6" fill="#c9a24a"/><rect x="261.9" y="535" width="3.2" height="5.4" fill="#3350b0"/><rect x="262.3" y="540" width="2.4" height="1.6" fill="#c9a24a"/><rect x="270.7" y="535" width="3.2" height="5.4" fill="#3350b0"/><rect x="271.1" y="540" width="2.4" height="1.6" fill="#c9a24a"/><rect x="224.6" y="506.3" width="5.5" height="3" fill="#3350b0"/><rect x="222.8" y="506.7" width="2" height="2.2" fill="#c9a24a"/><rect x="278" y="505.7" width="4.6" height="3" fill="#3350b0"/><rect x="282.4" y="506.1" width="1.8" height="2.2" fill="#c9a24a"/><rect x="224.6" y="515.5" width="5.5" height="3" fill="#3350b0"/><rect x="222.8" y="515.9" width="2" height="2.2" fill="#c9a24a"/><rect x="278" y="514.9" width="4.6" height="3" fill="#3350b0"/><rect x="282.4" y="515.3" width="1.8" height="2.2" fill="#c9a24a"/><rect x="224.6" y="524.3" width="5.5" height="3" fill="#3350b0"/><rect x="222.8" y="524.6999999999999" width="2" height="2.2" fill="#c9a24a"/><rect x="278" y="523.6999999999999" width="4.6" height="3" fill="#3350b0"/><rect x="282.4" y="524.0999999999999" width="1.8" height="2.2" fill="#c9a24a"/><circle cx="228.2" cy="502.7" r="1.7" fill="none" stroke="#2f4fb4" stroke-width="1"/><circle cx="228.2" cy="530.9" r="1.7" fill="none" stroke="#2f4fb4" stroke-width="1"/><rect x="236.5" y="495.8" width="4" height="1.2" fill="#2a3e8e"/><rect x="252.6" y="495.8" width="4" height="1.2" fill="#2a3e8e"/><rect x="269" y="495.8" width="4" height="1.2" fill="#2a3e8e"/><rect x="229.3" y="496.6" width="49.5" height="39.4" rx=".8" fill="url(#cvg)"/><rect x="243.9" y="504" width="9" height="2.6" rx=".5" fill="#12100e"/><rect x="245.9" y="516.6" width="18.1" height="9.2" fill="#23231c"/><rect x="246.6" y="517.3" width="16.7" height="7.8" fill="#2e2e26"/></g>
<g transform="translate(376.5 -4)"><rect x="245.3" y="492.4" width="17.8" height="7" rx="1.4" fill="none" stroke="#3e62c8" stroke-width="1.1"/><rect x="235.1" y="535" width="3.2" height="5.4" fill="#3350b0"/><rect x="235.5" y="540" width="2.4" height="1.6" fill="#c9a24a"/><rect x="243.9" y="535" width="3.2" height="5.4" fill="#3350b0"/><rect x="244.3" y="540" width="2.4" height="1.6" fill="#c9a24a"/><rect x="252.70000000000002" y="535" width="3.2" height="5.4" fill="#3350b0"/><rect x="253.10000000000002" y="540" width="2.4" height="1.6" fill="#c9a24a"/><rect x="261.9" y="535" width="3.2" height="5.4" fill="#3350b0"/><rect x="262.3" y="540" width="2.4" height="1.6" fill="#c9a24a"/><rect x="270.7" y="535" width="3.2" height="5.4" fill="#3350b0"/><rect x="271.1" y="540" width="2.4" height="1.6" fill="#c9a24a"/><rect x="224.6" y="506.3" width="5.5" height="3" fill="#3350b0"/><rect x="222.8" y="506.7" width="2" height="2.2" fill="#c9a24a"/><rect x="278" y="505.7" width="4.6" height="3" fill="#3350b0"/><rect x="282.4" y="506.1" width="1.8" height="2.2" fill="#c9a24a"/><rect x="224.6" y="515.5" width="5.5" height="3" fill="#3350b0"/><rect x="222.8" y="515.9" width="2" height="2.2" fill="#c9a24a"/><rect x="278" y="514.9" width="4.6" height="3" fill="#3350b0"/><rect x="282.4" y="515.3" width="1.8" height="2.2" fill="#c9a24a"/><rect x="224.6" y="524.3" width="5.5" height="3" fill="#3350b0"/><rect x="222.8" y="524.6999999999999" width="2" height="2.2" fill="#c9a24a"/><rect x="278" y="523.6999999999999" width="4.6" height="3" fill="#3350b0"/><rect x="282.4" y="524.0999999999999" width="1.8" height="2.2" fill="#c9a24a"/><circle cx="228.2" cy="502.7" r="1.7" fill="none" stroke="#2f4fb4" stroke-width="1"/><circle cx="228.2" cy="530.9" r="1.7" fill="none" stroke="#2f4fb4" stroke-width="1"/><rect x="236.5" y="495.8" width="4" height="1.2" fill="#2a3e8e"/><rect x="252.6" y="495.8" width="4" height="1.2" fill="#2a3e8e"/><rect x="269" y="495.8" width="4" height="1.2" fill="#2a3e8e"/><rect x="229.3" y="496.6" width="49.5" height="39.4" rx=".8" fill="url(#cvg)"/><rect x="243.9" y="504" width="9" height="2.6" rx=".5" fill="#12100e"/><rect x="245.9" y="516.6" width="18.1" height="9.2" fill="#23231c"/><rect x="246.6" y="517.3" width="16.7" height="7.8" fill="#2e2e26"/></g>
<g fill="none" stroke="#111" stroke-width="1.35" stroke-linecap="round"><path d="M106.48 553.03 A4.6 4.6 0 0 0 113.72 553.03"/><path d="M103.48 555.37 A8.4 8.4 0 0 0 116.72 555.37"/><path d="M100.41 557.77 A12.3 12.3 0 0 0 119.79 557.77"/><path d="M97.77 560.55 A16.1 16.1 0 0 0 122.43 560.55"/></g>
<g fill="none" stroke="#111" stroke-width="1.35" stroke-linecap="round"><path d="M178.38 553.03 A4.6 4.6 0 0 0 185.62 553.03"/><path d="M175.38 555.37 A8.4 8.4 0 0 0 188.62 555.37"/><path d="M172.31 557.77 A12.3 12.3 0 0 0 191.69 557.77"/><path d="M169.67 560.55 A16.1 16.1 0 0 0 194.33 560.55"/></g>
<g transform="translate(0 0)"><polygon points="111.7,608.0 120.9,607.4 120.9,619.6 111.7,619.6" fill="#6b6763"/><rect x="95" y="618.4" width="25.8" height="4.1" fill="#4b4845"/><polygon points="84.2,593.3 107.5,590.9 107.9,607.8 84.5,607.8" fill="#28282b"/><polygon points="107.5,590.9 132.9,589.2 133.3,606.0 107.9,608.1" fill="#f1efe9"/><polygon points="107.5,590.9 132.9,589.2 132.9,590.8 107.5,592.5" fill="#d2d2d2"/><polygon points="107.5,590.9 132.9,589.2 133.3,606.0 107.9,608.1" fill="none" stroke="#a4a4a4" stroke-width=".7"/><polygon points="88.6,596.0 93.6,595.6 95.2,600.0 95.2,622.5 87.6,622.5 87.6,600.0" fill="#918d89"/><circle cx="90.9" cy="600.6" r="3.3" fill="#a8a4a0"/><circle cx="90.9" cy="600.6" r="2" fill="#4a4846"/><ellipse cx="115.1" cy="600.5" rx="4" ry="4.5" fill="#8f8f8f"/><ellipse cx="115.1" cy="600.5" rx="3.2" ry="3.7" fill="#bdbdbb"/><ellipse cx="127.1" cy="600.1" rx="4" ry="4.5" fill="#7d879c"/><ellipse cx="127.1" cy="600.1" rx="3.1" ry="3.6" fill="#dfe5f0"/><ellipse cx="127.6" cy="600.8" rx="1.3" ry="1.6" fill="#aab6cc"/></g>
<g transform="translate(72.2 0)"><polygon points="111.7,608.0 120.9,607.4 120.9,619.6 111.7,619.6" fill="#6b6763"/><rect x="95" y="618.4" width="25.8" height="4.1" fill="#4b4845"/><polygon points="84.2,593.3 107.5,590.9 107.9,607.8 84.5,607.8" fill="#28282b"/><polygon points="107.5,590.9 132.9,589.2 133.3,606.0 107.9,608.1" fill="#f1efe9"/><polygon points="107.5,590.9 132.9,589.2 132.9,590.8 107.5,592.5" fill="#d2d2d2"/><polygon points="107.5,590.9 132.9,589.2 133.3,606.0 107.9,608.1" fill="none" stroke="#a4a4a4" stroke-width=".7"/><polygon points="88.6,596.0 93.6,595.6 95.2,600.0 95.2,622.5 87.6,622.5 87.6,600.0" fill="#918d89"/><circle cx="90.9" cy="600.6" r="3.3" fill="#a8a4a0"/><circle cx="90.9" cy="600.6" r="2" fill="#4a4846"/><ellipse cx="115.1" cy="600.5" rx="4" ry="4.5" fill="#8f8f8f"/><ellipse cx="115.1" cy="600.5" rx="3.2" ry="3.7" fill="#bdbdbb"/><ellipse cx="127.1" cy="600.1" rx="4" ry="4.5" fill="#7d879c"/><ellipse cx="127.1" cy="600.1" rx="3.1" ry="3.6" fill="#dfe5f0"/><ellipse cx="127.6" cy="600.8" rx="1.3" ry="1.6" fill="#aab6cc"/></g>
<g transform="translate(629.5 -92.5)"><polygon points="111.7,608.0 120.9,607.4 120.9,619.6 111.7,619.6" fill="#6b6763"/><rect x="95" y="618.4" width="25.8" height="4.1" fill="#4b4845"/><polygon points="84.2,593.3 107.5,590.9 107.9,607.8 84.5,607.8" fill="#28282b"/><polygon points="107.5,590.9 132.9,589.2 133.3,606.0 107.9,608.1" fill="#f1efe9"/><polygon points="107.5,590.9 132.9,589.2 132.9,590.8 107.5,592.5" fill="#d2d2d2"/><polygon points="107.5,590.9 132.9,589.2 133.3,606.0 107.9,608.1" fill="none" stroke="#a4a4a4" stroke-width=".7"/><polygon points="88.6,596.0 93.6,595.6 95.2,600.0 95.2,622.5 87.6,622.5 87.6,600.0" fill="#918d89"/><circle cx="90.9" cy="600.6" r="3.3" fill="#a8a4a0"/><circle cx="90.9" cy="600.6" r="2" fill="#4a4846"/><ellipse cx="115.1" cy="600.5" rx="4" ry="4.5" fill="#8f8f8f"/><ellipse cx="115.1" cy="600.5" rx="3.2" ry="3.7" fill="#bdbdbb"/><ellipse cx="127.1" cy="600.1" rx="4" ry="4.5" fill="#7d879c"/><ellipse cx="127.1" cy="600.1" rx="3.1" ry="3.6" fill="#dfe5f0"/><ellipse cx="127.6" cy="600.8" rx="1.3" ry="1.6" fill="#aab6cc"/></g>
<g transform="translate(746.5 -95)"><polygon points="111.7,608.0 120.9,607.4 120.9,619.6 111.7,619.6" fill="#6b6763"/><rect x="95" y="618.4" width="25.8" height="4.1" fill="#4b4845"/><polygon points="84.2,593.3 107.5,590.9 107.9,607.8 84.5,607.8" fill="#28282b"/><polygon points="107.5,590.9 132.9,589.2 133.3,606.0 107.9,608.1" fill="#f1efe9"/><polygon points="107.5,590.9 132.9,589.2 132.9,590.8 107.5,592.5" fill="#d2d2d2"/><polygon points="107.5,590.9 132.9,589.2 133.3,606.0 107.9,608.1" fill="none" stroke="#a4a4a4" stroke-width=".7"/><polygon points="88.6,596.0 93.6,595.6 95.2,600.0 95.2,622.5 87.6,622.5 87.6,600.0" fill="#918d89"/><circle cx="90.9" cy="600.6" r="3.3" fill="#a8a4a0"/><circle cx="90.9" cy="600.6" r="2" fill="#4a4846"/><ellipse cx="115.1" cy="600.5" rx="4" ry="4.5" fill="#8f8f8f"/><ellipse cx="115.1" cy="600.5" rx="3.2" ry="3.7" fill="#bdbdbb"/><ellipse cx="127.1" cy="600.1" rx="4" ry="4.5" fill="#7d879c"/><ellipse cx="127.1" cy="600.1" rx="3.1" ry="3.6" fill="#dfe5f0"/><ellipse cx="127.6" cy="600.8" rx="1.3" ry="1.6" fill="#aab6cc"/></g>
<g transform="translate(0 0)"><polygon points="244.5,603.5 252.5,608.0 252.5,615.5 258.5,619.0 258.5,622.3 242.0,622.3 242.0,618.5 245.0,615.5" fill="#8a8682"/><polygon points="246.0,606.0 251.0,609.0 251.0,614.5 246.0,614.5" fill="#4b4846"/><rect x="242" y="619.6" width="16.5" height="1.3" fill="#3a3836"/><rect x="247" y="616" width="9" height="1.6" fill="#c9c5bf"/><path d="M266.8 604 Q264.2 599 265.6 596.5" stroke="#55524f" stroke-width="1.6" fill="none"/><circle cx="268.9" cy="596.3" r="5.5" fill="#4a484b"/><circle cx="267" cy="595" r="3" fill="#9d9a97"/><circle cx="270.8" cy="597.6" r="2.5" fill="#1f1e20"/><circle cx="266.2" cy="593.6" r="1.3" fill="#ece8e2"/><circle cx="271.5" cy="593.5" r="1.2" fill="#8d8a88"/><g transform="translate(239 595) rotate(31.6)"><rect x="0" y="-6.2" width="35" height="12.4" rx="1.5" fill="url(#cyl)"/><ellipse cx="0" cy="0" rx="4.6" ry="7.1" fill="#d9d5cd"/><ellipse cx="-0.6" cy="0.3" rx="3.2" ry="5.4" fill="#4a4846"/><ellipse cx="0.6" cy="-2.6" rx="1.6" ry="2.3" fill="#f6f4f0"/><rect x="4.4" y="-6.6" width="1.6" height="13.2" fill="#2c2b2d"/><ellipse cx="34.8" cy="0" rx="3.1" ry="6.1" fill="#d6d0c4"/><ellipse cx="35" cy="0" rx="2" ry="4.1" fill="#5a6372"/></g></g>
<g transform="translate(69.5 0)"><polygon points="244.5,603.5 252.5,608.0 252.5,615.5 258.5,619.0 258.5,622.3 242.0,622.3 242.0,618.5 245.0,615.5" fill="#8a8682"/><polygon points="246.0,606.0 251.0,609.0 251.0,614.5 246.0,614.5" fill="#4b4846"/><rect x="242" y="619.6" width="16.5" height="1.3" fill="#3a3836"/><rect x="247" y="616" width="9" height="1.6" fill="#c9c5bf"/><path d="M266.8 604 Q264.2 599 265.6 596.5" stroke="#55524f" stroke-width="1.6" fill="none"/><circle cx="268.9" cy="596.3" r="5.5" fill="#4a484b"/><circle cx="267" cy="595" r="3" fill="#9d9a97"/><circle cx="270.8" cy="597.6" r="2.5" fill="#1f1e20"/><circle cx="266.2" cy="593.6" r="1.3" fill="#ece8e2"/><circle cx="271.5" cy="593.5" r="1.2" fill="#8d8a88"/><g transform="translate(239 595) rotate(31.6)"><rect x="0" y="-6.2" width="35" height="12.4" rx="1.5" fill="url(#cyl)"/><ellipse cx="0" cy="0" rx="4.6" ry="7.1" fill="#d9d5cd"/><ellipse cx="-0.6" cy="0.3" rx="3.2" ry="5.4" fill="#4a4846"/><ellipse cx="0.6" cy="-2.6" rx="1.6" ry="2.3" fill="#f6f4f0"/><rect x="4.4" y="-6.6" width="1.6" height="13.2" fill="#2c2b2d"/><ellipse cx="34.8" cy="0" rx="3.1" ry="6.1" fill="#d6d0c4"/><ellipse cx="35" cy="0" rx="2" ry="4.1" fill="#5a6372"/></g></g>
<g transform="translate(487.5 0)"><polygon points="244.5,603.5 252.5,608.0 252.5,615.5 258.5,619.0 258.5,622.3 242.0,622.3 242.0,618.5 245.0,615.5" fill="#8a8682"/><polygon points="246.0,606.0 251.0,609.0 251.0,614.5 246.0,614.5" fill="#4b4846"/><rect x="242" y="619.6" width="16.5" height="1.3" fill="#3a3836"/><rect x="247" y="616" width="9" height="1.6" fill="#c9c5bf"/><path d="M266.8 604 Q264.2 599 265.6 596.5" stroke="#55524f" stroke-width="1.6" fill="none"/><circle cx="268.9" cy="596.3" r="5.5" fill="#4a484b"/><circle cx="267" cy="595" r="3" fill="#9d9a97"/><circle cx="270.8" cy="597.6" r="2.5" fill="#1f1e20"/><circle cx="266.2" cy="593.6" r="1.3" fill="#ece8e2"/><circle cx="271.5" cy="593.5" r="1.2" fill="#8d8a88"/><g transform="translate(239 595) rotate(31.6)"><rect x="0" y="-6.2" width="35" height="12.4" rx="1.5" fill="url(#cyl)"/><ellipse cx="0" cy="0" rx="4.6" ry="7.1" fill="#d9d5cd"/><ellipse cx="-0.6" cy="0.3" rx="3.2" ry="5.4" fill="#4a4846"/><ellipse cx="0.6" cy="-2.6" rx="1.6" ry="2.3" fill="#f6f4f0"/><rect x="4.4" y="-6.6" width="1.6" height="13.2" fill="#2c2b2d"/><ellipse cx="34.8" cy="0" rx="3.1" ry="6.1" fill="#d6d0c4"/><ellipse cx="35" cy="0" rx="2" ry="4.1" fill="#5a6372"/></g></g>
<g transform="translate(595.2 0)"><polygon points="244.5,603.5 252.5,608.0 252.5,615.5 258.5,619.0 258.5,622.3 242.0,622.3 242.0,618.5 245.0,615.5" fill="#8a8682"/><polygon points="246.0,606.0 251.0,609.0 251.0,614.5 246.0,614.5" fill="#4b4846"/><rect x="242" y="619.6" width="16.5" height="1.3" fill="#3a3836"/><rect x="247" y="616" width="9" height="1.6" fill="#c9c5bf"/><path d="M266.8 604 Q264.2 599 265.6 596.5" stroke="#55524f" stroke-width="1.6" fill="none"/><circle cx="268.9" cy="596.3" r="5.5" fill="#4a484b"/><circle cx="267" cy="595" r="3" fill="#9d9a97"/><circle cx="270.8" cy="597.6" r="2.5" fill="#1f1e20"/><circle cx="266.2" cy="593.6" r="1.3" fill="#ece8e2"/><circle cx="271.5" cy="593.5" r="1.2" fill="#8d8a88"/><g transform="translate(239 595) rotate(31.6)"><rect x="0" y="-6.2" width="35" height="12.4" rx="1.5" fill="url(#cyl)"/><ellipse cx="0" cy="0" rx="4.6" ry="7.1" fill="#d9d5cd"/><ellipse cx="-0.6" cy="0.3" rx="3.2" ry="5.4" fill="#4a4846"/><ellipse cx="0.6" cy="-2.6" rx="1.6" ry="2.3" fill="#f6f4f0"/><rect x="4.4" y="-6.6" width="1.6" height="13.2" fill="#2c2b2d"/><ellipse cx="34.8" cy="0" rx="3.1" ry="6.1" fill="#d6d0c4"/><ellipse cx="35" cy="0" rx="2" ry="4.1" fill="#5a6372"/></g></g>
<g><polygon points="604.3,624.4 624.9,621.7 647.2,624.8 645.4,627.4 606.0,626.4" fill="#38383a"/><rect x="625.8" y="617.5" width="16" height="5.5" fill="#2e2e30"/><circle cx="657" cy="606" r="2.2" fill="#6d6d70"/><polygon points="614.1,582.7 655.7,579.0 655.3,619.4 612.3,616.8" fill="#aaaaae"/><polygon points="614.1,582.7 655.7,579.0 655.6,580.6 614.0,584.2" fill="#c9c9cc"/><polygon points="618.1,587.2 650.4,584.5 650.4,614.1 617.2,612.7" fill="url(#exm)"/><path d="M618 606 Q636 603 650.4 611" stroke="#6fb0f0" stroke-width=".8" fill="none" opacity=".7"/><rect x="646.3" y="579.8" width="7.2" height="2.4" fill="#3b8bd9"/><rect x="630.2" y="596" width="3.4" height="3.4" fill="#e25a2c"/><rect x="634" y="597" width="3.4" height="3.4" fill="#86c23a"/><rect x="629.6" y="600" width="3.4" height="3.4" fill="#3a8ee0"/><rect x="633.4" y="601" width="3.4" height="3.4" fill="#f2c230"/></g>
<text class="ttl" x="354.70" y="41.90">煤矿视频监控系统</text>
<text class="lb" x="177.00" y="202.51">存储服务器</text>
<text class="lb" x="339.25" y="202.51">视频服务器</text>
<text class="lb" x="487.77" y="200.01">音视频调度台</text>
<text class="lb" x="648.12" y="200.01">工业大屏幕</text>
<text class="lb" x="795.62" y="200.01">监控客户端</text>
<text class="lb" x="306.75" y="288.26">地面交换机</text>
<text class="lb" x="452.98" y="311.26">地面核心</text>
<text class="lb" x="460.70" y="330.26">交换机</text>
<text class="lb" x="587.75" y="288.26">井口交换机</text>
<text class="lb" x="823.25" y="267.26">球机摄像机</text>
<text class="lb" x="823.25" y="312.26">枪机摄像机</text>
<text class="lb" x="168.43" y="326.26">地面</text>
<text class="lb" x="168.55" y="376.26">井下</text>
<text class="lb" x="438.27" y="371.26">万兆工业环网</text>
<text class="lb" x="54.98" y="434.76">隔爆电源</text>
<text class="lb" x="175.35" y="435.76">隔爆电源</text>
<text class="lb" x="308.25" y="457.76">万兆交换机</text>
<text class="lb" x="493.25" y="457.26">万兆交换机</text>
<text class="lb" x="654.98" y="428.76">隔爆电源</text>
<text class="lb" x="771.35" y="426.26">隔爆电源</text>
<text class="lb" x="171.55" y="508.26">光纤</text>
<text class="lb" x="156.85" y="535.26">无线基站</text>
<text class="lb" x="286.00" y="507.76">信号转换器</text>
<text class="lb" x="261.80" y="575.26">网线</text>
<text class="lb" x="331.30" y="574.76">光纤</text>
<text class="lb" x="109.75" y="647.26">本安摄像机</text>
<text class="lb" x="253.12" y="647.26">隔爆摄像机</text>
<text class="lb" x="551.75" y="552.76">信号转换器</text>
<text class="lb" x="664.45" y="511.76">双绞线</text>
<text class="lb" x="701.75" y="549.76">本安摄像机</text>
<text class="lb" x="769.70" y="533.26">双绞线</text>
<text class="lb" x="818.00" y="547.26">本安摄像机</text>
<text class="lb" x="594.00" y="646.76">隔爆显示器</text>
<text class="lb" x="710.75" y="646.76">隔爆摄像机</text>
<text class="lb" x="809.00" y="646.76">隔爆摄像机</text>
</g>
</svg>
<div class="t" style="left:354.7px;top:12.6px;width:244.0px;font-size:30px">煤矿视频监控系统</div>
<div class="t" style="left:177.0px;top:188.2px;width:77.5px;font-size:14.7px">存储服务器</div>
<div class="t" style="left:339.2px;top:188.2px;width:77.5px;font-size:14.7px">视频服务器</div>
<div class="t" style="left:487.8px;top:185.7px;width:92.2px;font-size:14.7px">音视频调度台</div>
<div class="t" style="left:648.1px;top:185.7px;width:77.5px;font-size:14.7px">工业大屏幕</div>
<div class="t" style="left:795.6px;top:185.7px;width:77.5px;font-size:14.7px">监控客户端</div>
<div class="t" style="left:306.8px;top:273.9px;width:77.5px;font-size:14.7px">地面交换机</div>
<div class="t" style="left:453.0px;top:296.9px;width:62.8px;font-size:14.7px">地面核心</div>
<div class="t" style="left:460.7px;top:315.9px;width:48.1px;font-size:14.7px">交换机</div>
<div class="t" style="left:587.8px;top:273.9px;width:77.5px;font-size:14.7px">井口交换机</div>
<div class="t" style="left:823.2px;top:252.9px;width:77.5px;font-size:14.7px">球机摄像机</div>
<div class="t" style="left:823.2px;top:297.9px;width:77.5px;font-size:14.7px">枪机摄像机</div>
<div class="t" style="left:168.4px;top:311.9px;width:33.4px;font-size:14.7px">地面</div>
<div class="t" style="left:168.6px;top:361.9px;width:33.4px;font-size:14.7px">井下</div>
<div class="t" style="left:438.3px;top:356.9px;width:92.2px;font-size:14.7px">万兆工业环网</div>
<div class="t" style="left:55.0px;top:420.4px;width:62.8px;font-size:14.7px">隔爆电源</div>
<div class="t" style="left:175.3px;top:421.4px;width:62.8px;font-size:14.7px">隔爆电源</div>
<div class="t" style="left:308.2px;top:443.4px;width:77.5px;font-size:14.7px">万兆交换机</div>
<div class="t" style="left:493.2px;top:442.9px;width:77.5px;font-size:14.7px">万兆交换机</div>
<div class="t" style="left:655.0px;top:414.4px;width:62.8px;font-size:14.7px">隔爆电源</div>
<div class="t" style="left:771.4px;top:411.9px;width:62.8px;font-size:14.7px">隔爆电源</div>
<div class="t" style="left:171.6px;top:493.9px;width:33.4px;font-size:14.7px">光纤</div>
<div class="t" style="left:156.8px;top:520.9px;width:62.8px;font-size:14.7px">无线基站</div>
<div class="t" style="left:286.0px;top:493.4px;width:77.5px;font-size:14.7px">信号转换器</div>
<div class="t" style="left:261.8px;top:560.9px;width:33.4px;font-size:14.7px">网线</div>
<div class="t" style="left:331.3px;top:560.4px;width:33.4px;font-size:14.7px">光纤</div>
<div class="t" style="left:109.8px;top:632.9px;width:77.5px;font-size:14.7px">本安摄像机</div>
<div class="t" style="left:253.1px;top:632.9px;width:77.5px;font-size:14.7px">隔爆摄像机</div>
<div class="t" style="left:551.8px;top:538.4px;width:77.5px;font-size:14.7px">信号转换器</div>
<div class="t" style="left:664.5px;top:497.4px;width:48.1px;font-size:14.7px">双绞线</div>
<div class="t" style="left:701.8px;top:535.4px;width:77.5px;font-size:14.7px">本安摄像机</div>
<div class="t" style="left:769.7px;top:518.9px;width:48.1px;font-size:14.7px">双绞线</div>
<div class="t" style="left:818.0px;top:532.9px;width:77.5px;font-size:14.7px">本安摄像机</div>
<div class="t" style="left:594.0px;top:632.4px;width:77.5px;font-size:14.7px">隔爆显示器</div>
<div class="t" style="left:710.8px;top:632.4px;width:77.5px;font-size:14.7px">隔爆摄像机</div>
<div class="t" style="left:809.0px;top:632.4px;width:77.5px;font-size:14.7px">隔爆摄像机</div>
</body></html>
